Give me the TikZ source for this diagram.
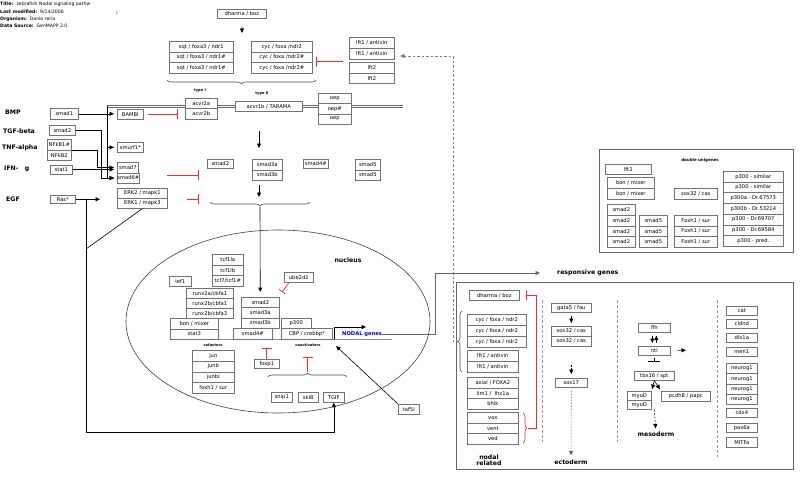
\documentclass[tikz,border=0pt]{standalone}
\usepackage{fontspec}
\setmainfont{DejaVu Sans}
\usetikzlibrary{arrows.meta,shapes.geometric,decorations.pathreplacing}

\newcommand\genefont{\fontsize{5.2}{6}\selectfont}
\newcommand\labfont{\fontsize{6.2}{7}\selectfont\bfseries}
\newcommand\tinyfont{\fontsize{3.6}{4}\selectfont\bfseries}
\newcommand\headfont{\fontsize{4.6}{5.5}\selectfont}

\tikzset{
  gene/.style={draw=black!55, fill=white, line width=0.6pt, inner sep=0pt, anchor=north west, font=\genefont},
  act/.style={-{Triangle[length=4.5pt,width=4pt]}, line width=0.6pt},
  inhib/.style={-{Bar[width=10pt]}, draw=red!85, line width=0.7pt},
  feedback/.style={act, draw=black!50, dash pattern=on 2.5pt off 2pt},
  divider/.style={draw=black!40, dash pattern=on 2.5pt off 2.5pt, line width=0.5pt},
  curly/.style={decorate, decoration={brace, amplitude=4pt}, draw=black!70, line width=0.6pt},
  siglab/.style={font=\labfont, inner sep=0pt}
}

\begin{document}
\begin{tikzpicture}[x=1pt,y=-1pt]
  \useasboundingbox (0,0) rectangle (800,477);

  % header
  \foreach \nm/\y/\k/\v in {title/4/{Title:}/{zebrafish Nodal signaling pathw},
      modified/11.5/{Last modified:}/{9/14/2006}, organism/19/{Organism:}/{Danio rerio},
      source/26/{Data Source:}/{GenMAPP 2.0}} {
    \node[anchor=west, font=\headfont, inner sep=0pt] (\nm) at (0,\y) {\textbf{\k}\ \ \v};
  }
  \node[font=\fontsize{3.5}{4}\selectfont, text=blue, inner sep=0pt] (pagenum) at (117,13) {1};

  % membrane and frames
  \draw[line width=0.6pt, black!60] (107,105) -- (403,105) (107,107.5) -- (403,107.5);
  \draw[line width=0.6pt, black!45] (170,339) -- (392,339);
  \node[draw=black!75, ellipse, line width=0.6pt, inner sep=0pt,
        minimum width=304pt, minimum height=183pt] (nucleus) at (278,321.5) {};
  \draw[black!60, line width=0.7pt] (456,282) rectangle (793,469);
  \draw[black!60, line width=0.7pt] (599,149) rectangle (793,252);
  \draw[divider] (542,300) -- (542,442) (617,300) -- (617,442) (717,300) -- (717,457);

  % gene boxes: name/x/y/width/row height/rows
  \foreach \nm/\x/\y/\w/\h/\lst in {
      dharma/217/9/49/9/{{dharma / boz}},
      sqt/169/41/64/10.7/{{sqt / foxa3 / ndr1},{sqt / foxa3 / ndr1\#},{sqt / foxa3 / ndr1\#}},
      cyc/251/41/61/10.7/{{cyc / foxa /ndr2},{cyc / foxa /ndr2\#},{cyc / foxa /ndr2\#}},
      lfta/349/37/45/11/{{lft1 / antivin},{lft1 / antivin}},
      lftb/349/62/45/10.5/{{lft2},{lft2}},
      acvr/185/97.5/32/10.8/{{acvr2a},{acvr2b}},
      tarama/235/101/67/10/{{acvr1b / TARAMA}},
      oep/318/93/33/10.3/{{oep},{oep\#},{oep}},
      smadone/50/108/28/11/{{smad1}},
      bambi/117/109/26/10/{{BAMBI}},
      smadtwo/49/125/26/10/{{smad2}},
      nfkb/47/139/24/10.5/{{NFkB1\#},{NFkB2}},
      statone/50/165/22/8.5/{{stat1}},
      ras/50/195/25/8/{{Ras*}},
      smurf/117/142/26/10/{{smurf1*}},
      smadsev/117/162/21/10.5/{{smad7},{smad6\#}},
      erk/117/188/50/10/{{ERK2 / mapk1},{ERK1 / mapk3}},
      rsmadtwo/207/159/26/9/{{smad2}},
      rsmadthr/252/159/30/10.5/{{smad3a},{smad3b}},
      rsmadfour/303/159/25/9/{{smad4\#}},
      rsmadfive/355/159/25/10.5/{{smad5},{smad5}},
      tcf/212/254/31/10.7/{{tcf1la},{tcf1lb},{tcf7/tcf1\#}},
      lef/169/276/22/10/{{lef1}},
      runx/186/288/47/10/{{runx2a/cbfa1},{runx2b/cbfa1},{runx2b/cbfa3}},
      bon/170/318/48/10.5/{{bon / mixer},{stat3}},
      nsmad/241/297/38/10.3/{{smad2},{smad3a},{smad3b}},
      nsmadfour/233/328/39/11/{{smad4\#}},
      pthree/281/317.7/30/10.3/{{p300}},
      cbp/281/328/51/11/{{CBP / crebbp*}},
      ube/284/272/29/10/{{ube2d1}},
      jun/192/350/42/10.75/{{jun},{junb},{junbl},{foxh1 / sur}},
      foxp/254/359/25/9/{{foxp1}},
      snip/271/392/21/10/{{snip1}},
      ski/298/392/20/10/{{skiB}},
      tgif/323/392/21/10/{{TGIF}},
      taf/398/404/21/10/{{taf5l}},
      dlft/605/164/46/10/{{lft2}},
      dbon/607/177/47/11/{{bon / mixer},{bon / mixer}},
      dsmadtwo/607/204/28/10.75/{{smad2},{smad2},{smad2},{smad2}},
      dsmadfive/639/214.75/28/10.75/{{smad5},{smad5},{smad5}},
      dsox/674/188/43/11/{{sox32 / cas}},
      dfox/674/214.75/43/10.75/{{Foxh1 / sur},{Foxh1 / sur},{Foxh1 / sur}},
      dpthree/723/171/60/10.7/{{p300 - similar},{p300 - similar},{p300a - Dr.67573},{p300b - Dr.53214},{p300 - Dr.69707},{p300 - Dr.69584},{p300 - pred.}},
      rdharma/469/290/50/10/{{dharma / boz}},
      rcyc/467/314/59/11/{{cyc / foxa / ndr2},{cyc / foxa / ndr2},{cyc / foxa / ndr2}},
      rlft/467/350/51/11/{{lft1 / antivin},{lft1 / antivin}},
      raxial/467/377/51/10.7/{{axial / FOXA2},{lim1 /\ \ lhx1a},{bhik}},
      rvox/467/412/51/10.7/{{vox},{vent},{ved}},
      gata/551/303/40/9/{{gata5 / fau}},
      sox/551/326/40/10/{{sox32 / cas},{sox32 / cas}},
      soxs/555/378/32/9/{{sox17}},
      flh/638/323/32/9/{{flh}},
      ntl/638/346/32/8.5/{{ntl}},
      tbx/634/371/40/9/{{tbx16 / spt}},
      myod/627/391/24/9/{{myoD},{myoD}},
      pcdh/661/391/49/10/{{pcdh8 / papc}},
      cat/726/306/31/8.5/{{cat}},
      cldnd/726/319/31/9/{{cldnd}},
      dlx/726/333/31/9/{{dlx1a}},
      men/726/347/31/9/{{men1}},
      neurog/726/363/31/10.3/{{neurog1},{neurog1},{neurog1},{neurog1}},
      cdx/726/408/31/9/{{cdx4}},
      pax/726/423/31/9/{{pax6a}},
      mitf/726/437/31/10/{{MITFa}}} {
    \foreach \t [count=\i] in \lst
      \node[gene, minimum width=\w pt, minimum height=\h pt] (\nm\i) at (\x,{\y+(\i-1)*\h}) {\t};
  }

  % labels
  \foreach \nm/\x/\y/\t in {bmp/5/112/BMP, tgfb/3/131/TGF-beta, tnfa/2/148/TNF-alpha,
      ifng/4/169/{IFN-\ \ \ g}, egf/6/199/EGF, resp/557/273/{responsive genes}} {
    \node[siglab, anchor=west] (\nm) at (\x,\y) {\t};
  }
  \node[siglab] (nucleuslab) at (348,260) {nucleus};
  \node[siglab, align=center, font=\labfont\linespread{0.9}\selectfont] (nodalrel) at (489,460) {nodal\\related};
  \node[siglab] (ectoderm) at (571,462) {ectoderm};
  \node[siglab] (mesoderm) at (656,434) {mesoderm};
  \node[font=\genefont\bfseries, text=blue!90!black, anchor=west, inner sep=0pt] (nodal) at (342,334) {NODAL genes};
  \foreach \nm/\x/\y/\t in {typeone/200/91/{type I}, typetwo/262/94/{type II},
      cofactors/213/345/cofactors, coactivators/308/345/coactivators} {
    \node[font=\tinyfont, inner sep=0pt] (\nm) at (\x,\y) {\t};
  }
  \node[font=\fontsize{4}{5}\selectfont\bfseries, inner sep=0pt] (unigenes) at (700,160) {double unigenes};

  % free ends
  \coordinate (dharmain) at (242,33);
  \coordinate (lftgap) at (343,61.5);
  \coordinate (cycbar) at (316,61.5);
  \coordinate (lfttip) at (400,56);
  \coordinate (fbbrace) at (458,341.5);
  \coordinate (bmpjoin) at (107,106);
  \coordinate (egfjoin) at (86,199);
  \coordinate (inhA) at (167,175);
  \coordinate (barA) at (199,175);
  \coordinate (inhB) at (187,199);
  \coordinate (barB) at (199,199);
  \coordinate (recout) at (259,131);
  \coordinate (recin) at (259,148);
  \coordinate (smadout) at (259,185);
  \coordinate (smadin) at (259,197);
  \coordinate (smadbrace) at (260,206.5);
  \coordinate (ubebar) at (282,292);
  \coordinate (skitip) at (307.5,372);
  \coordinate (cbptarget) at (336,346);
  \coordinate (promoter) at (334,339);
  \coordinate (promotertip) at (366,327);
  \coordinate (rvoxtip) at (528,428);
  \coordinate (ntlout) at (686,350.25);

  % connectors: top and membrane
  \draw[act, shorten <=8pt] (dharma1) -- (dharmain);
  \draw[curly] (316,80) -- (167,80);
  \draw[inhib] (lftgap) -- (cycbar);
  \draw[feedback] (fbbrace) -- ++(-5,0) |- (lfttip);
  \draw[act, shorten >=3pt] (smadone1.east) -- (smadone1.east -| bambi1.west);
  \draw[inhib, shorten <=4pt, shorten >=7pt] (bambi1.east) -- (bambi1.east -| acvr2.west);
  \draw[act, shorten >=3pt] (bmpjoin) |- (smadsev2.west);
  \draw[act, shorten >=3pt] (bmpjoin |- smurf1) -- (smurf1);
  \draw[act, shorten >=3pt] (smadtwo1.east) -- ++(26,0) |- (smadsev2.west);
  \draw[act, shorten >=3pt] (nfkb1.south east) -- ++(26,0) |- (smadsev1.west);
  \draw[act, shorten >=3pt] (statone1.east) -- (statone1.east -| smadsev1.west);
  \draw[act, shorten >=17pt] (ras1.east) -- (ras1.east -| erk1.west);
  \draw[act] (egfjoin) |- (tgif1.south |- 0,432) -- (tgif1.south);
  \draw[line width=0.6pt] (erk2.south) -- (egfjoin |- 0,249);
  \draw[inhib] (inhA) -- (barA);
  \draw[inhib] (inhB) -- (barB);
  \draw[act] (recout) -- (recin);
  \draw[act] (smadout) -- (smadin);
  \draw[curly] (310,202) -- (210,202);
  \draw[act, shorten >=5pt] (smadbrace) -- (nsmad1);

  % nucleus
  \draw[inhib, -{Bar[width=8pt]}] ([xshift=5pt]ube1.south west) -- (ubebar);
  \draw[inhib] (foxp1.north) -- ++(0,-11);
  \draw[curly] (268,377) -- (347,377);
  \draw[inhib] (skitip) -- ++(0,-15);
  \draw[act] (taf1.north west) -- (cbptarget);
  \draw[act] (promoter) |- (promotertip);
  \draw[act, draw=black!60, shorten >=17pt] (nodal.east) -| (435,273) -- (resp.west);

  % responsive genes
  \draw[curly] (462,372) -- (462,311);
  \draw[curly, draw=red!85] (523,413) -- (523,443);
  \draw[inhib, shorten >=6pt] (rvoxtip) -- ++(8,0) |- (rdharma1.east);
  \draw[act, shorten <=3pt, shorten >=3pt] (gata1) -- (sox1);
  \draw[act, dash pattern=on 2pt off 1.5pt, shorten <=18pt, shorten >=4pt] (sox2) -- (soxs1);
  \draw[act, draw=black!60, dash pattern=on 1.5pt off 1.5pt, shorten <=3pt, shorten >=4pt] (soxs1) -- (ectoderm);
  \draw[act, shorten <=3pt, shorten >=3pt] ([xshift=-2pt]flh1.south) -- ([xshift=-2pt]ntl1.north);
  \draw[act, shorten <=3pt, shorten >=3pt] ([xshift=2pt]ntl1.north) -- ([xshift=2pt]flh1.south);
  \draw[act, shorten <=7pt] (ntl1.east) -- (ntlout);
  \draw[-{Bar[width=12pt]}, line width=0.6pt, shorten <=3pt, shorten >=9pt] (ntl1) -- (tbx1);
  \draw[act, shorten >=2pt] (tbx1.south) -- (myod1.north east);
  \draw[act, shorten >=2pt] (tbx1.south) -- (pcdh1.north west);
  \draw[act, dash pattern=on 2pt off 1.5pt, shorten >=3pt] (tbx1.south |- myod2.south) -- (mesoderm);
\end{tikzpicture}
\end{document}
